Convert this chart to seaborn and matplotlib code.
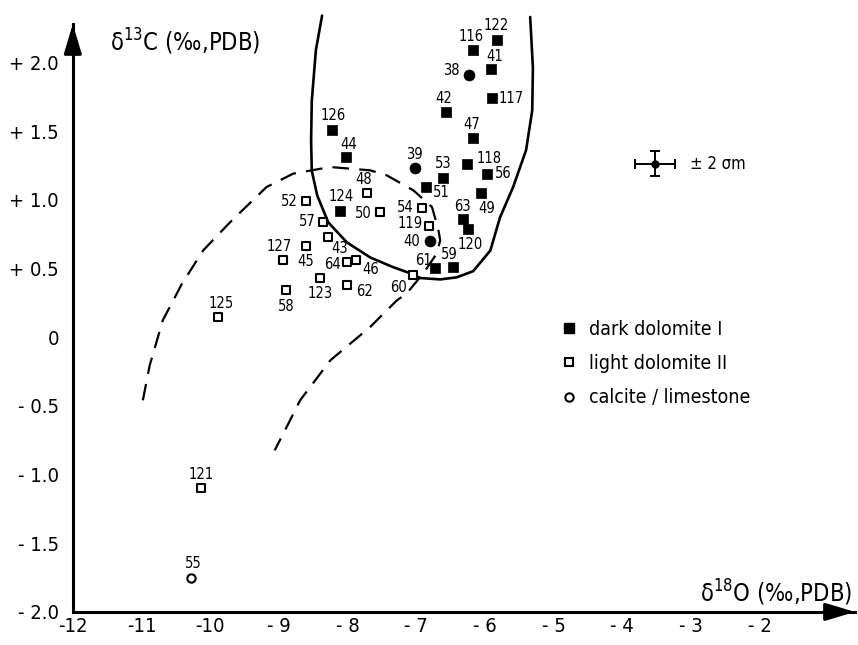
import matplotlib
matplotlib.use("Agg")
import matplotlib.pyplot as plt
from matplotlib.lines import Line2D
import seaborn as sns
import pandas as pd

# ---------------- data ----------------
dark_labels = ["122", "116", "41", "117", "42", "47", "118", "53", "56", "51", "49",
               "63", "120", "61", "59", "124", "126", "44"]
dark_d18O = [-5.82, -6.17, -5.91, -5.89, -6.57, -6.17, -6.26, -6.61, -5.97, -6.86, -6.06,
             -6.32, -6.24, -6.73, -6.46, -8.11, -8.22, -8.02]
dark_d13C = [2.16, 2.09, 1.95, 1.74, 1.64, 1.45, 1.26, 1.16, 1.19, 1.09, 1.05,
             0.86, 0.79, 0.50, 0.51, 0.92, 1.51, 1.31]

light_labels = ["48", "52", "50", "57", "54", "119", "43", "127", "45", "64", "46",
                "123", "62", "58", "60", "125", "121"]
light_d18O = [-7.71, -8.60, -7.52, -8.35, -6.92, -6.81, -8.28, -8.61, -8.94, -8.00, -7.88,
              -8.40, -8.00, -8.90, -7.05, -9.89, -10.14]
light_d13C = [1.05, 0.99, 0.91, 0.84, 0.94, 0.81, 0.73, 0.66, 0.56, 0.55, 0.56,
              0.43, 0.38, 0.34, 0.45, 0.15, -1.10]

calc_filled_labels = ["38", "39", "40"]
calc_filled_d18O = [-6.23, -7.02, -6.80]
calc_filled_d13C = [1.91, 1.23, 0.70]

calc_open_labels = ["55"]
calc_open_d18O = [-10.28]
calc_open_d13C = [-1.75]

# field boundaries
solid_d18O = [-8.37, -8.46, -8.52, -8.53, -8.52, -8.44, -8.28, -8.01, -7.67, -7.34, -7.06,
              -6.94, -6.65, -6.41, -6.17, -5.92, -5.78, -5.59, -5.40, -5.31, -5.30, -5.34]
solid_d13C = [2.34, 2.09, 1.72, 1.43, 1.21, 1.03, 0.835, 0.69, 0.58, 0.51, 0.46,
              0.43, 0.42, 0.435, 0.48, 0.63, 0.87, 1.09, 1.36, 1.65, 1.96, 2.33]
dashed_d18O = [-10.98, -10.88, -10.69, -10.41, -10.10, -9.71, -9.18, -8.79, -8.25, -7.67,
               -7.43, -7.04, -6.77, -6.68, -6.65, -6.70, -6.90, -7.14, -7.28, -7.67,
               -8.25, -8.69, -8.91, -9.06]
dashed_d13C = [-0.46, -0.205, 0.122, 0.389, 0.632, 0.836, 1.092, 1.190, 1.238, 1.214,
               1.178, 1.068, 0.947, 0.790, 0.705, 0.608, 0.462, 0.317, 0.268, 0.074,
               -0.169, -0.460, -0.678, -0.824]

# analytical error
err_d18O, err_d13C = [-3.52], [1.263]
err_x, err_y = [0.29], [0.09]
err_text = "± 2 σm"

xticks = [-12, -11, -10, -9, -8, -7, -6, -5, -4, -3, -2]
xtick_labels = ["-12", "-11", "-10", "- 9", "- 8", "- 7", "- 6", "- 5", "- 4", "- 3", "- 2"]
yticks = [-2.0, -1.5, -1.0, -0.5, 0.0, 0.5, 1.0, 1.5, 2.0]
ytick_labels = ["- 2.0", "- 1.5", "- 1.0", "- 0.5", "0", "+ 0.5", "+ 1.0", "+ 1.5", "+ 2.0"]

legend_labels = ["dark dolomite I", "light dolomite II", "calcite / limestone"]

# label offsets (pixels) - styling only
label_offsets = {
    "122": (-0.6, 15), "116": (-1.6, 13.3), "41": (3.6, 12.3), "117": (19, 0),
    "42": (-1.7, 13.7), "47": (-1.6, 13.3), "118": (21.6, 5.6), "53": (0, 14.2),
    "56": (16.6, 0), "51": (15.7, -5.6), "49": (6, -16), "63": (0, 12.6),
    "120": (1.7, -15.6), "61": (-11.2, 8.3), "59": (-4, 12.8), "124": (1.7, 14.7),
    "126": (1, 14), "44": (2.3, 12.7),
    "38": (-17.3, 4), "39": (0, 13.4), "40": (-18.3, -1),
    "48": (-4, 13), "52": (-16.7, 0), "50": (-16.7, -1.7), "57": (-16.6, 0),
    "54": (-16, 0), "119": (-19.3, 2), "43": (11.7, -11.6), "127": (-26.5, 0),
    "45": (23.1, -1.4), "64": (-14.8, -3.3), "46": (14.5, -9), "123": (0.5, -15),
    "62": (17.5, -7), "58": (1, -16.4), "60": (-14.4, -12.3), "125": (3.3, 13.4),
    "121": (0.3, 13.3), "55": (2, 14),
}

# ---------------- figure ----------------
sns.set_style("white")
plt.rcParams["font.family"] = ["DejaVu Sans"]
plt.rcParams["font.stretch"] = "condensed"
plt.rcParams["mathtext.fontset"] = "dejavusans"
plt.rcParams["text.color"] = "black"
plt.rcParams["axes.labelcolor"] = "black"
plt.rcParams["xtick.color"] = "black"
plt.rcParams["ytick.color"] = "black"

fig = plt.figure(figsize=(8.58, 6.45), dpi=100)
ax = fig.add_axes([72.8 / 858, (645 - 611.9) / 645, 782.2 / 858, 587.9 / 645])

# boundaries
sns.lineplot(x=solid_d18O, y=solid_d13C, sort=False, estimator=None, ax=ax,
             color="black", lw=1.9, clip_on=False, solid_joinstyle="round")
sns.lineplot(x=dashed_d18O, y=dashed_d13C, sort=False, estimator=None, ax=ax,
             color="black", lw=1.6, linestyle=(0, (7.5, 4.6)))

dark = pd.DataFrame({"x": dark_d18O, "y": dark_d13C, "lab": dark_labels})
light = pd.DataFrame({"x": light_d18O, "y": light_d13C, "lab": light_labels})
cf = pd.DataFrame({"x": calc_filled_d18O, "y": calc_filled_d13C, "lab": calc_filled_labels})
co = pd.DataFrame({"x": calc_open_d18O, "y": calc_open_d13C, "lab": calc_open_labels})

sns.scatterplot(data=dark, x="x", y="y", marker="s", s=54, color="black",
                edgecolor="black", linewidth=0.5, ax=ax, zorder=5, legend=False)
sns.scatterplot(data=light, x="x", y="y", marker="s", s=40, color="white",
                edgecolor="black", linewidth=1.5, ax=ax, zorder=5, legend=False)
sns.scatterplot(data=cf, x="x", y="y", marker="o", s=62, color="black",
                edgecolor="black", linewidth=0.5, ax=ax, zorder=5, legend=False)
sns.scatterplot(data=co, x="x", y="y", marker="o", s=36, color="white",
                edgecolor="black", linewidth=1.5, ax=ax, zorder=5, legend=False)

for df in (dark, light, cf, co):
    for _, r in df.iterrows():
        dx, dy = label_offsets[r["lab"]]
        ax.annotate(r["lab"], (r["x"], r["y"]), xytext=(dx, dy), textcoords="offset pixels",
                    ha="center", va="center", fontsize=10.5, color="black", zorder=6)

# error cross
ax.errorbar(err_d18O, err_d13C, xerr=err_x, yerr=err_y, fmt="o", ms=5, color="black",
            ecolor="black", elinewidth=1.4, capsize=3.5, capthick=1.4)
ax.text(err_d18O[0] + 0.51, err_d13C[0], err_text, ha="left", va="center", fontsize=12,
        color="black")

# axes
ax.set_xlim(-12, -0.61)
ax.set_ylim(-2.0, 2.279)
ax.set_xticks(xticks)
ax.set_xticklabels(xtick_labels)
ax.set_yticks(yticks)
ax.set_yticklabels(ytick_labels)
ax.tick_params(axis="both", direction="in", length=6.5, width=1.1, labelsize=14.5,
               colors="black")
ax.tick_params(axis="x", pad=4)
ax.tick_params(axis="y", pad=10)
for s in ("top", "right"):
    ax.spines[s].set_visible(False)
for s in ("left", "bottom"):
    ax.spines[s].set_linewidth(2.2)
    ax.spines[s].set_color("black")
ax.set_xlabel("")
ax.set_ylabel("")

# arrowheads
arrow_style = "-|>,head_length=1.0,head_width=0.3"
ax.annotate("", xy=(0, 1.0), xycoords="axes fraction", xytext=(0, 0.95),
            arrowprops=dict(arrowstyle=arrow_style, color="black", lw=2.2,
                            shrinkA=0, shrinkB=0, mutation_scale=18))
ax.annotate("", xy=(1.0, 0), xycoords="axes fraction", xytext=(0.96, 0),
            arrowprops=dict(arrowstyle=arrow_style, color="black", lw=2.2,
                            shrinkA=0, shrinkB=0, mutation_scale=18))

# axis titles
ax.text(-11.458, 2.148, "δ$^{13}$C (‰,PDB)", ha="left", va="center", fontsize=17,
        color="black")
ax.text(-0.653, -1.865, "δ$^{18}$O (‰,PDB)", ha="right", va="center", fontsize=17,
        color="black")

# legend
handles = [
    Line2D([], [], marker="s", ls="none", mfc="black", mec="black", ms=7),
    Line2D([], [], marker="s", ls="none", mfc="white", mec="black", ms=6.3, mew=1.5),
    Line2D([], [], marker="o", ls="none", mfc="white", mec="black", ms=6, mew=1.5),
]
leg = ax.legend(handles, legend_labels, frameon=False, loc="upper left",
                bbox_to_anchor=(559 / 858, 1 - 320.0 / 645), bbox_transform=fig.transFigure,
                borderpad=0, borderaxespad=0, handlelength=1.0, handletextpad=0.56,
                labelspacing=0.78, fontsize=14)
for t in leg.get_texts():
    t.set_color("black")

fig.savefig("out.png", dpi=100)
